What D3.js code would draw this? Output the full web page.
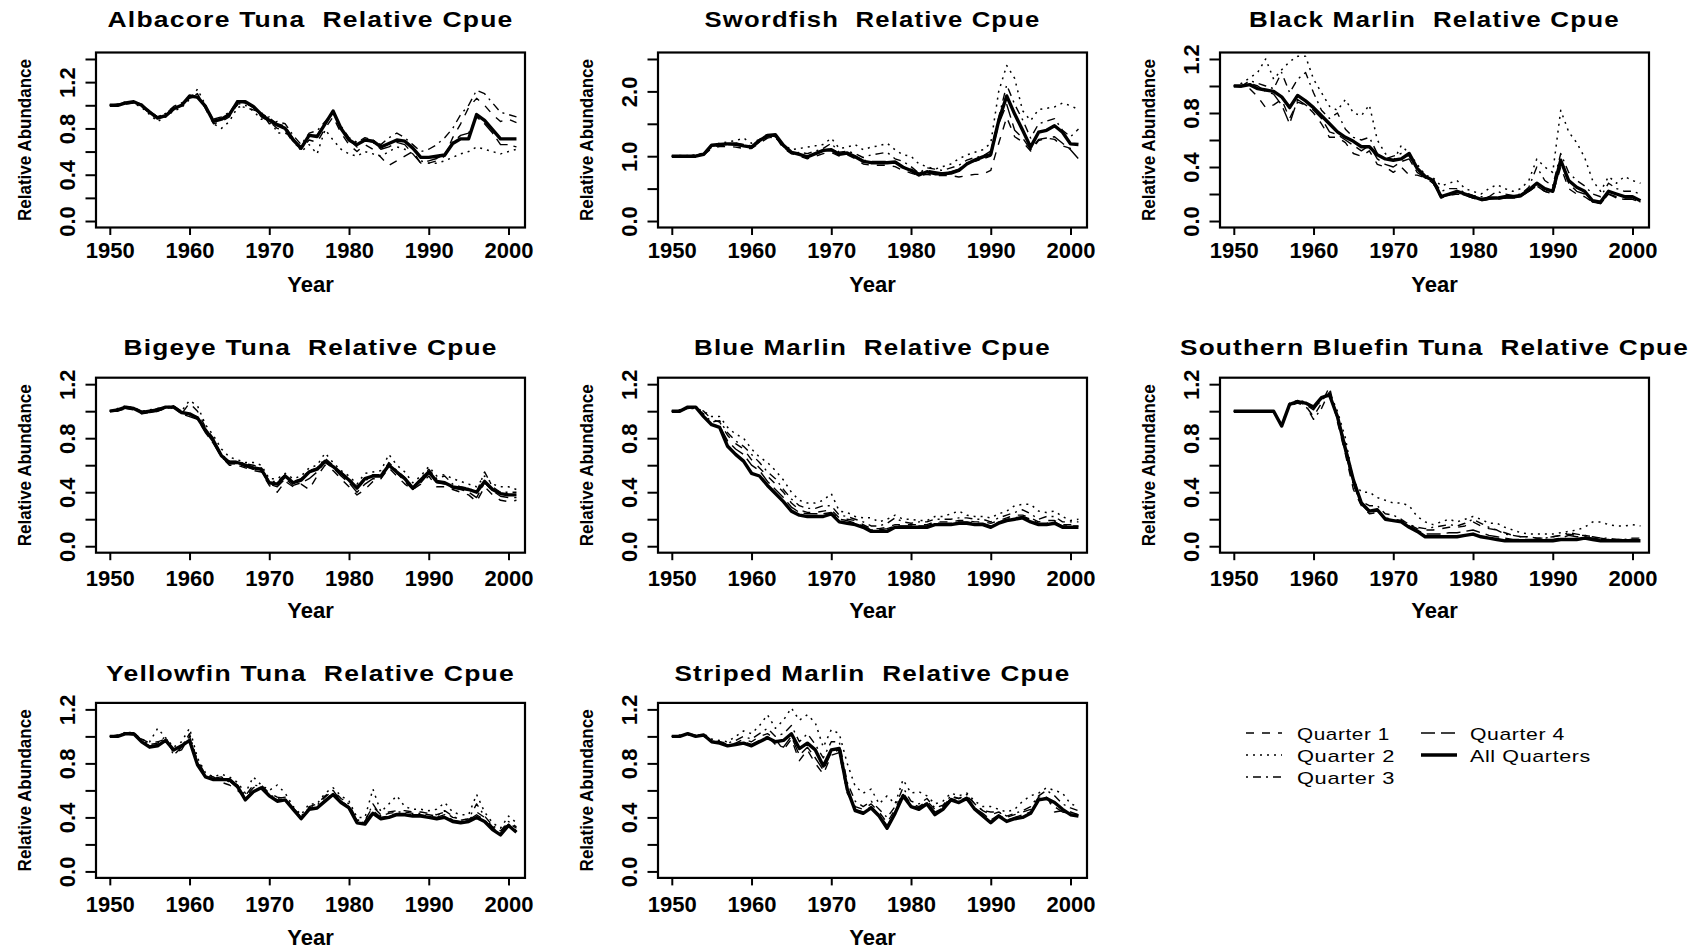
<!DOCTYPE html>
<html><head><meta charset="utf-8">
<script src="https://cdn.jsdelivr.net/npm/d3@7"></script>
<style>body{margin:0;background:#fff} svg{display:block}</style>
</head><body>
<script>
// ---------- DATA ----------
const years = [1950,1951,1952,1953,1954,1955,1956,1957,1958,1959,1960,1961,1962,1963,1964,1965,1966,1967,1968,1969,1970,1971,1972,1973,1974,1975,1976,1977,1978,1979,1980,1981,1982,1983,1984,1985,1986,1987,1988,1989,1990,1991,1992,1993,1994,1995,1996,1997,1998,1999,2000,2001];
const xTickValues = [1950,1960,1970,1980,1990,2000];
const seriesNames = ["Quarter 1","Quarter 2","Quarter 3","Quarter 4","All Quarters"];

const ticks14 = [0,0.2,0.4,0.6,0.8,1.0,1.2,1.4];
const labels14 = [0,0.4,0.8,1.2];
const ticks25 = [0,0.5,1.0,1.5,2.0,2.5];
const labels25 = [0,1.0,2.0];
const ticks12 = [0,0.2,0.4,0.6,0.8,1.0,1.2];
const labels12 = [0,0.4,0.8,1.2];

// Albacore Tuna
const albacoreQ1 = [1.0,1.0,1.01,1.02,0.99,0.93,0.90,0.93,0.98,1.01, 1.06,1.10,0.97,0.84,0.86,0.90,1.01,1.02,0.98,0.90, 0.86,0.80,0.78,0.68,0.62,0.70,0.68,0.80,0.90,0.76, 0.66,0.60,0.66,0.62,0.55,0.48,0.52,0.56,0.60,0.50, 0.50,0.52,0.56,0.72,0.84,0.98,1.06,1.0,0.92,0.86, 0.88,0.85];
const albacoreQ2 = [1.0,1.01,1.03,1.02,0.98,0.92,0.86,0.90,0.95,0.98, 1.05,1.14,1.0,0.84,0.80,0.86,0.98,1.0,0.95,0.88, 0.90,0.76,0.76,0.72,0.60,0.66,0.58,0.79,0.70,0.62, 0.58,0.56,0.60,0.58,0.56,0.60,0.64,0.62,0.58,0.52, 0.50,0.50,0.52,0.55,0.58,0.60,0.64,0.62,0.60,0.58, 0.60,0.62];
const albacoreQ3 = [1.0,1.0,1.03,1.02,1.0,0.95,0.90,0.93,0.99,1.02, 1.06,1.08,0.98,0.88,0.90,0.94,1.0,0.98,0.96,0.94, 0.84,0.86,0.84,0.74,0.66,0.76,0.78,0.86,0.94,0.82, 0.72,0.68,0.72,0.70,0.66,0.72,0.76,0.72,0.66,0.60, 0.62,0.66,0.72,0.80,0.92,1.0,1.13,1.10,1.02,0.94, 0.92,0.90];
const albacoreQ4 = [1.0,1.01,1.02,1.03,1.01,0.95,0.89,0.90,0.96,1.0, 1.07,1.06,1.0,0.87,0.88,0.93,1.04,1.02,0.98,0.93, 0.89,0.84,0.82,0.71,0.64,0.74,0.74,0.85,0.93,0.80, 0.70,0.64,0.70,0.68,0.62,0.64,0.68,0.66,0.58,0.50, 0.52,0.54,0.58,0.68,0.74,0.76,0.90,0.84,0.76,0.66, 0.66,0.64];
const albacoreAll = [1.0,1.0,1.02,1.03,1.0,0.94,0.89,0.91,0.97,1.0, 1.08,1.07,0.99,0.86,0.88,0.92,1.03,1.03,0.99,0.92, 0.87,0.83,0.80,0.70,0.63,0.74,0.73,0.84,0.95,0.80, 0.70,0.66,0.70,0.69,0.64,0.67,0.70,0.69,0.63,0.55, 0.55,0.56,0.57,0.67,0.71,0.71,0.92,0.87,0.79,0.71, 0.71,0.71];

// Swordfish
const swordfishQ1 = [1.0,1.0,0.99,1.0,1.02,1.12,1.15,1.15,1.14,1.12, 1.12,1.20,1.28,1.30,1.12,1.04,1.0,0.96,1.0,1.04, 1.06,1.0,1.02,0.96,0.88,0.86,0.86,0.86,0.84,0.78, 0.74,0.70,0.72,0.70,0.70,0.70,0.68,0.70,0.72,0.72, 0.78,1.20,1.60,1.30,1.22,1.08,1.24,1.28,1.26,1.16, 1.12,1.10];
const swordfishQ2 = [1.0,1.0,1.01,1.02,1.05,1.16,1.20,1.22,1.24,1.28, 1.20,1.26,1.30,1.28,1.18,1.10,1.12,1.14,1.16,1.18, 1.28,1.12,1.14,1.18,1.10,1.14,1.16,1.20,1.10,1.02, 1.0,0.88,0.84,0.80,0.84,0.88,0.96,1.02,1.06,1.10, 1.20,2.0,2.40,2.20,1.70,1.55,1.72,1.74,1.76,1.82, 1.78,1.72];
const swordfishQ3 = [1.0,1.01,1.0,1.02,1.04,1.14,1.16,1.18,1.20,1.18, 1.16,1.26,1.34,1.30,1.14,1.04,1.06,1.04,1.08,1.12, 1.20,1.06,1.08,1.04,0.98,1.02,1.04,1.06,0.96,0.92, 0.84,0.74,0.82,0.80,0.78,0.82,0.86,0.94,0.98,1.0, 1.08,1.60,2.10,1.80,1.56,1.28,1.50,1.54,1.58,1.40, 1.30,1.42];
const swordfishQ4 = [1.0,1.0,1.0,1.01,1.03,1.16,1.17,1.18,1.17,1.15, 1.13,1.22,1.30,1.32,1.15,1.05,1.02,1.0,1.03,1.08, 1.12,1.04,1.04,1.0,0.94,0.92,0.92,0.92,0.90,0.84, 0.80,0.74,0.78,0.76,0.74,0.76,0.80,0.90,0.92,0.96, 1.0,1.50,1.80,1.40,1.28,1.10,1.26,1.28,1.30,1.20, 1.10,0.96];
const swordfishAll = [1.0,1.0,1.0,1.0,1.03,1.17,1.18,1.19,1.19,1.16, 1.14,1.24,1.32,1.33,1.17,1.06,1.03,0.99,1.04,1.09, 1.10,1.03,1.05,0.99,0.92,0.90,0.90,0.90,0.91,0.83, 0.78,0.71,0.76,0.73,0.73,0.74,0.78,0.88,0.94,0.99, 1.03,1.55,1.93,1.65,1.40,1.14,1.37,1.40,1.47,1.37, 1.19,1.18];

// Black Marlin
const blackMarlinQ1 = [1.0,0.99,0.98,0.92,0.84,0.86,0.90,0.76,0.88,0.86, 0.80,0.72,0.62,0.62,0.58,0.50,0.48,0.52,0.42,0.40, 0.36,0.40,0.34,0.34,0.32,0.28,0.17,0.19,0.20,0.19, 0.17,0.15,0.16,0.16,0.17,0.17,0.18,0.22,0.26,0.22, 0.20,0.40,0.24,0.20,0.18,0.14,0.13,0.20,0.18,0.17, 0.17,0.14];
const blackMarlinQ2 = [1.0,1.02,1.06,1.10,1.20,1.05,1.12,1.18,1.22,1.22, 1.05,0.95,0.85,0.82,0.90,0.80,0.78,0.86,0.60,0.50, 0.44,0.56,0.50,0.42,0.34,0.32,0.26,0.28,0.30,0.24, 0.22,0.20,0.24,0.27,0.24,0.22,0.24,0.30,0.46,0.40, 0.36,0.82,0.66,0.58,0.47,0.30,0.22,0.33,0.28,0.33, 0.30,0.28];
const blackMarlinQ3 = [1.0,1.0,1.04,1.02,1.0,0.98,1.10,0.95,1.05,1.10, 0.95,0.82,0.76,0.80,0.68,0.62,0.60,0.62,0.50,0.46, 0.48,0.50,0.48,0.38,0.33,0.30,0.22,0.24,0.24,0.21, 0.19,0.18,0.18,0.22,0.20,0.19,0.20,0.25,0.40,0.30, 0.26,0.50,0.36,0.30,0.26,0.20,0.18,0.28,0.24,0.22, 0.22,0.20];
const blackMarlinQ4 = [1.0,1.0,1.02,1.0,0.96,0.94,0.86,0.72,0.90,0.86, 0.82,0.76,0.66,0.64,0.60,0.56,0.52,0.56,0.46,0.42, 0.40,0.44,0.46,0.36,0.32,0.28,0.18,0.19,0.21,0.19, 0.17,0.15,0.16,0.17,0.17,0.17,0.18,0.22,0.26,0.22, 0.20,0.44,0.28,0.22,0.20,0.14,0.13,0.20,0.17,0.16, 0.16,0.14];
const blackMarlinAll = [1.0,1.0,1.01,0.98,0.97,0.96,0.92,0.84,0.93,0.89, 0.84,0.78,0.72,0.66,0.62,0.59,0.55,0.55,0.49,0.46, 0.45,0.46,0.50,0.39,0.33,0.30,0.18,0.20,0.22,0.20, 0.18,0.16,0.17,0.17,0.18,0.18,0.19,0.23,0.28,0.24, 0.22,0.45,0.30,0.25,0.22,0.15,0.14,0.22,0.20,0.18, 0.18,0.15];

// Bigeye Tuna
const bigeyeQ1 = [1.0,1.0,1.02,1.01,0.98,0.99,1.0,1.02,1.04,0.98, 1.06,1.0,0.88,0.80,0.66,0.60,0.60,0.58,0.56,0.55, 0.45,0.40,0.48,0.44,0.46,0.42,0.52,0.60,0.56,0.50, 0.44,0.38,0.42,0.48,0.50,0.58,0.52,0.46,0.42,0.46, 0.52,0.44,0.44,0.42,0.40,0.38,0.33,0.44,0.38,0.34, 0.33,0.34];
const bigeyeQ2 = [1.0,1.02,1.04,1.02,1.0,1.01,1.02,1.03,1.02,1.0, 1.08,1.04,0.90,0.82,0.72,0.66,0.64,0.62,0.62,0.60, 0.50,0.50,0.54,0.50,0.52,0.58,0.60,0.69,0.62,0.56, 0.52,0.46,0.54,0.55,0.56,0.68,0.60,0.55,0.47,0.52, 0.59,0.52,0.53,0.50,0.48,0.46,0.44,0.52,0.46,0.44, 0.44,0.42];
const bigeyeQ3 = [1.0,1.01,1.03,1.03,1.0,1.0,1.02,1.03,1.04,1.0, 0.97,0.96,0.86,0.78,0.68,0.63,0.63,0.61,0.60,0.58, 0.48,0.48,0.53,0.48,0.50,0.56,0.58,0.65,0.60,0.55, 0.50,0.44,0.48,0.53,0.53,0.62,0.56,0.51,0.44,0.50, 0.57,0.50,0.52,0.46,0.44,0.43,0.40,0.55,0.44,0.40, 0.40,0.40];
const bigeyeQ4 = [1.0,1.0,1.02,1.02,0.99,0.99,1.0,1.02,1.03,0.98, 0.96,0.94,0.84,0.76,0.66,0.61,0.61,0.59,0.57,0.56, 0.46,0.44,0.50,0.45,0.47,0.50,0.55,0.62,0.58,0.52, 0.47,0.40,0.46,0.50,0.50,0.60,0.54,0.48,0.42,0.47, 0.54,0.47,0.46,0.43,0.42,0.40,0.36,0.47,0.41,0.37, 0.36,0.36];
const bigeyeAll = [1.0,1.01,1.03,1.02,0.99,1.0,1.01,1.03,1.03,0.99, 0.98,0.95,0.86,0.78,0.67,0.62,0.62,0.60,0.58,0.57, 0.47,0.46,0.52,0.47,0.49,0.55,0.57,0.63,0.59,0.54, 0.49,0.43,0.50,0.52,0.52,0.60,0.55,0.50,0.43,0.49, 0.55,0.48,0.47,0.44,0.43,0.42,0.40,0.48,0.42,0.39, 0.38,0.38];

// Blue Marlin
const blueMarlinQ1 = [1.0,1.0,1.02,1.03,1.0,0.94,0.92,0.82,0.76,0.72, 0.64,0.58,0.52,0.46,0.40,0.32,0.27,0.25,0.25,0.26, 0.27,0.21,0.20,0.19,0.16,0.13,0.13,0.14,0.16,0.16, 0.16,0.16,0.16,0.18,0.18,0.18,0.19,0.19,0.18,0.18, 0.17,0.19,0.21,0.23,0.23,0.21,0.18,0.19,0.19,0.16, 0.16,0.17];
const blueMarlinQ2 = [1.0,1.01,1.03,1.02,1.0,0.96,0.96,0.88,0.83,0.80, 0.72,0.66,0.62,0.56,0.49,0.40,0.34,0.32,0.32,0.34, 0.39,0.26,0.25,0.22,0.21,0.21,0.18,0.20,0.23,0.20, 0.20,0.19,0.19,0.22,0.22,0.24,0.26,0.23,0.22,0.22, 0.21,0.24,0.26,0.30,0.31,0.31,0.26,0.25,0.26,0.22, 0.19,0.20];
const blueMarlinQ3 = [1.0,1.0,1.02,1.02,0.98,0.92,0.93,0.84,0.78,0.74, 0.68,0.62,0.55,0.50,0.42,0.35,0.30,0.28,0.28,0.30, 0.30,0.23,0.22,0.20,0.18,0.15,0.15,0.17,0.21,0.18, 0.17,0.18,0.18,0.20,0.20,0.20,0.21,0.21,0.20,0.20, 0.18,0.21,0.23,0.25,0.27,0.24,0.20,0.22,0.22,0.18, 0.18,0.18];
const blueMarlinQ4 = [1.0,1.0,1.03,1.03,0.97,0.90,0.89,0.78,0.72,0.68, 0.60,0.56,0.48,0.42,0.36,0.29,0.25,0.24,0.24,0.24, 0.25,0.20,0.19,0.17,0.15,0.12,0.12,0.13,0.15,0.15, 0.15,0.15,0.15,0.17,0.17,0.17,0.18,0.18,0.17,0.17, 0.15,0.18,0.20,0.21,0.22,0.20,0.17,0.17,0.18,0.15, 0.15,0.15];
const blueMarlinAll = [1.0,1.0,1.03,1.03,0.96,0.90,0.88,0.74,0.68,0.63, 0.54,0.52,0.45,0.39,0.33,0.26,0.23,0.22,0.22,0.22, 0.24,0.18,0.17,0.16,0.14,0.11,0.11,0.11,0.14,0.14, 0.14,0.14,0.14,0.16,0.16,0.16,0.17,0.17,0.16,0.16, 0.14,0.17,0.19,0.20,0.21,0.18,0.16,0.16,0.17,0.14, 0.14,0.14];

// Southern Bluefin Tuna
const bluefinQ1 = [1.0,1.0,1.0,1.0,1.0,1.0,0.90,1.04,1.06,1.04, 0.96,1.06,1.18,0.92,0.68,0.42,0.30,0.24,0.25,0.21, 0.20,0.19,0.16,0.13,0.12,0.12,0.13,0.14,0.14,0.15, 0.18,0.15,0.13,0.12,0.10,0.08,0.07,0.07,0.06,0.06, 0.07,0.08,0.09,0.08,0.08,0.07,0.06,0.05,0.05,0.05, 0.05,0.05];
const bluefinQ2 = [1.0,1.0,1.0,1.0,1.0,1.0,0.90,1.06,1.08,1.07, 1.02,1.08,1.14,1.0,0.80,0.48,0.40,0.40,0.36,0.34, 0.32,0.32,0.30,0.22,0.18,0.16,0.18,0.20,0.18,0.20, 0.22,0.20,0.17,0.17,0.14,0.12,0.10,0.09,0.09,0.09, 0.09,0.10,0.11,0.12,0.14,0.18,0.18,0.16,0.15,0.15, 0.16,0.15];
const bluefinQ3 = [1.0,1.0,1.0,1.0,1.0,1.0,0.89,1.05,1.08,1.04, 0.94,1.02,1.15,0.94,0.76,0.45,0.33,0.30,0.30,0.24, 0.23,0.20,0.16,0.14,0.13,0.14,0.15,0.16,0.15,0.17, 0.20,0.17,0.14,0.12,0.09,0.08,0.07,0.07,0.06,0.06, 0.07,0.08,0.10,0.09,0.08,0.07,0.06,0.06,0.05,0.05, 0.06,0.06];
const bluefinQ4 = [1.0,1.0,1.0,1.0,1.0,1.0,0.89,1.05,1.07,1.05, 1.01,1.09,1.13,0.95,0.70,0.46,0.31,0.25,0.26,0.20, 0.19,0.18,0.15,0.12,0.09,0.09,0.09,0.10,0.10,0.11, 0.12,0.10,0.08,0.07,0.06,0.05,0.05,0.05,0.05,0.05, 0.05,0.06,0.08,0.07,0.07,0.06,0.05,0.05,0.04,0.04, 0.05,0.05];
const bluefinAll = [1.0,1.0,1.0,1.0,1.0,1.0,0.89,1.05,1.07,1.06, 1.03,1.10,1.12,0.96,0.72,0.49,0.32,0.26,0.27,0.20, 0.19,0.18,0.14,0.11,0.07,0.07,0.07,0.07,0.07,0.08, 0.09,0.07,0.06,0.05,0.04,0.04,0.04,0.04,0.04,0.04, 0.04,0.05,0.05,0.05,0.06,0.05,0.04,0.04,0.04,0.04, 0.04,0.04];

// Yellowfin Tuna
const yellowfinQ1 = [1.0,1.01,1.02,1.01,0.98,0.95,0.96,0.98,0.88,0.90, 1.0,0.82,0.72,0.70,0.66,0.64,0.60,0.55,0.62,0.64, 0.58,0.55,0.54,0.47,0.40,0.48,0.50,0.56,0.60,0.52, 0.48,0.38,0.38,0.48,0.42,0.44,0.45,0.45,0.44,0.44, 0.43,0.42,0.44,0.40,0.39,0.38,0.44,0.40,0.33,0.29, 0.36,0.32];
const yellowfinQ2 = [1.0,1.01,1.03,1.02,0.98,0.96,1.06,0.99,0.92,0.96, 1.06,0.84,0.73,0.70,0.72,0.70,0.66,0.58,0.70,0.64, 0.60,0.64,0.58,0.48,0.42,0.50,0.50,0.58,0.62,0.56, 0.52,0.40,0.40,0.61,0.44,0.50,0.56,0.48,0.46,0.46, 0.45,0.46,0.51,0.44,0.42,0.42,0.57,0.44,0.36,0.32, 0.41,0.36];
const yellowfinQ3 = [1.0,1.0,1.03,1.03,0.97,0.94,0.95,1.0,0.86,0.92, 1.02,0.80,0.71,0.69,0.70,0.66,0.64,0.56,0.64,0.63, 0.57,0.54,0.55,0.47,0.41,0.47,0.49,0.55,0.60,0.54, 0.50,0.38,0.37,0.50,0.41,0.43,0.44,0.44,0.43,0.43, 0.42,0.41,0.45,0.41,0.38,0.39,0.50,0.41,0.34,0.30, 0.37,0.33];
const yellowfinQ4 = [1.0,1.0,1.02,1.02,0.96,0.93,0.94,0.97,0.89,0.92, 0.98,0.80,0.70,0.69,0.68,0.67,0.62,0.54,0.60,0.62, 0.56,0.53,0.53,0.46,0.40,0.46,0.48,0.53,0.58,0.52, 0.48,0.37,0.36,0.45,0.40,0.41,0.43,0.43,0.42,0.42, 0.41,0.40,0.42,0.38,0.37,0.38,0.42,0.38,0.32,0.28, 0.35,0.30];
const yellowfinAll = [1.0,1.0,1.02,1.02,0.96,0.92,0.93,0.97,0.90,0.93, 0.97,0.79,0.70,0.68,0.68,0.68,0.63,0.53,0.59,0.62, 0.56,0.52,0.53,0.46,0.39,0.46,0.47,0.52,0.57,0.51, 0.47,0.36,0.35,0.43,0.39,0.40,0.42,0.42,0.41,0.41, 0.40,0.39,0.40,0.37,0.36,0.37,0.40,0.37,0.31,0.27, 0.34,0.29];

// Striped Marlin
const stripedQ1 = [1.0,1.0,1.01,1.01,1.0,0.97,0.96,0.94,0.95,0.98, 0.96,1.0,1.02,0.98,0.90,0.98,0.82,0.90,0.80,0.72, 0.86,0.88,0.58,0.48,0.46,0.50,0.44,0.36,0.46,0.58, 0.50,0.48,0.52,0.46,0.48,0.55,0.54,0.56,0.50,0.45, 0.42,0.44,0.40,0.42,0.44,0.46,0.55,0.56,0.44,0.45, 0.44,0.42];
const stripedQ2 = [1.0,1.01,1.02,1.0,1.02,0.98,0.97,0.96,1.0,1.04, 1.02,1.08,1.16,1.06,1.12,1.21,1.12,1.16,1.10,0.92, 1.05,1.02,0.80,0.63,0.58,0.61,0.50,0.56,0.50,0.68, 0.58,0.59,0.56,0.50,0.52,0.58,0.56,0.58,0.52,0.48, 0.48,0.46,0.44,0.46,0.52,0.56,0.58,0.62,0.60,0.58, 0.50,0.48];
const stripedQ3 = [1.0,1.0,1.02,1.01,1.01,0.97,0.96,0.95,0.97,1.0, 0.98,1.02,1.06,1.0,1.02,1.08,0.96,1.02,0.94,0.84, 0.96,0.96,0.66,0.52,0.48,0.52,0.46,0.40,0.48,0.62, 0.52,0.50,0.54,0.47,0.49,0.56,0.54,0.57,0.50,0.45, 0.44,0.44,0.41,0.43,0.45,0.48,0.56,0.60,0.56,0.50, 0.47,0.45];
const stripedQ4 = [1.0,1.0,1.02,1.0,1.01,0.96,0.95,0.93,0.94,0.96, 0.94,0.97,1.0,0.94,0.92,1.0,0.86,0.92,0.84,0.75, 0.88,0.90,0.60,0.46,0.44,0.48,0.42,0.34,0.44,0.57, 0.49,0.47,0.51,0.44,0.47,0.54,0.52,0.55,0.47,0.43, 0.38,0.42,0.38,0.40,0.42,0.44,0.52,0.55,0.48,0.44, 0.43,0.42];
const stripedAll = [1.0,1.0,1.02,1.0,1.01,0.96,0.95,0.93,0.94,0.95, 0.93,0.96,0.99,0.96,0.97,1.02,0.91,0.95,0.90,0.78, 0.90,0.91,0.61,0.45,0.43,0.47,0.41,0.32,0.43,0.56, 0.48,0.46,0.50,0.42,0.46,0.53,0.51,0.54,0.46,0.41, 0.36,0.41,0.37,0.39,0.40,0.43,0.53,0.54,0.51,0.46, 0.42,0.41];

// ---------- PANELS ----------
const panels = [
  {title:"Albacore Tuna  Relative Cpue", tw:406, col:0, row:0, ylim:[0,1.4], ticks:ticks14, labels:labels14, fmt:".1f", series:[albacoreQ1,albacoreQ2,albacoreQ3,albacoreQ4,albacoreAll]},
  {title:"Swordfish  Relative Cpue", tw:336, col:1, row:0, ylim:[0,2.5], ticks:ticks25, labels:labels25, fmt:".1f", series:[swordfishQ1,swordfishQ2,swordfishQ3,swordfishQ4,swordfishAll]},
  {title:"Black Marlin  Relative Cpue", tw:371, col:2, row:0, ylim:[0,1.2], ticks:ticks12, labels:labels12, fmt:".1f", series:[blackMarlinQ1,blackMarlinQ2,blackMarlinQ3,blackMarlinQ4,blackMarlinAll]},
  {title:"Bigeye Tuna  Relative Cpue", tw:374, col:0, row:1, ylim:[0,1.2], ticks:ticks12, labels:labels12, fmt:".1f", series:[bigeyeQ1,bigeyeQ2,bigeyeQ3,bigeyeQ4,bigeyeAll]},
  {title:"Blue Marlin  Relative Cpue", tw:357, col:1, row:1, ylim:[0,1.2], ticks:ticks12, labels:labels12, fmt:".1f", series:[blueMarlinQ1,blueMarlinQ2,blueMarlinQ3,blueMarlinQ4,blueMarlinAll]},
  {title:"Southern Bluefin Tuna  Relative Cpue", tw:509, col:2, row:1, ylim:[0,1.2], ticks:ticks12, labels:labels12, fmt:".1f", series:[bluefinQ1,bluefinQ2,bluefinQ3,bluefinQ4,bluefinAll]},
  {title:"Yellowfin Tuna  Relative Cpue", tw:409, col:0, row:2, ylim:[0,1.2], ticks:ticks12, labels:labels12, fmt:".1f", series:[yellowfinQ1,yellowfinQ2,yellowfinQ3,yellowfinQ4,yellowfinAll]},
  {title:"Striped Marlin  Relative Cpue", tw:396, col:1, row:2, ylim:[0,1.2], ticks:ticks12, labels:labels12, fmt:".1f", series:[stripedQ1,stripedQ2,stripedQ3,stripedQ4,stripedAll]}
];

// ---------- STYLE / LAYOUT ----------
const FONT = "'Liberation Sans', Arial, Helvetica, sans-serif";
const styles = [
  {dash:"8,8", w:1.4},
  {dash:"2,5", w:1.5},
  {dash:"2,5,8,5", w:1.4},
  {dash:"14,6", w:1.4},
  {dash:null, w:3.4}
];
const colLeft = [96, 658, 1220], rowTop = [52.5, 377.7, 702.9];
const W = 429, H = 175;
const rowText = [{title:27, tick:30.5, xlab:292}, {title:355, tick:33.3, xlab:618}, {title:681, tick:34.1, xlab:945}];

const svg = d3.select("body").append("svg").attr("width",1700).attr("height",949)
  .style("font-family", FONT);

panels.forEach(p => {
  const x0 = colLeft[p.col], y0 = rowTop[p.row], rt = rowText[p.row];
  const g = svg.append("g").attr("transform", `translate(${x0},${y0})`);
  const x = d3.scaleLinear().domain([1948.27, 2002.07]).range([0, W]);
  const pad = (p.ylim[1]-p.ylim[0])*0.04;
  const y = d3.scaleLinear().domain([p.ylim[0]-pad, p.ylim[1]+pad]).range([H, 0]);

  const line = d3.line().x((d,i)=>x(years[i])).y(d=>y(d));
  p.series.forEach((s, k) => {
    g.append("path").datum(s).attr("d", line)
      .attr("fill","none").attr("stroke","#000")
      .attr("stroke-width", styles[k].w)
      .attr("stroke-dasharray", styles[k].dash)
      .attr("stroke-linejoin","round");
  });

  // box
  g.append("rect").attr("width",W).attr("height",H)
    .attr("fill","none").attr("stroke","#000").attr("stroke-width",2.2);

  // x axis
  const xa = g.append("g").attr("transform",`translate(0,${H})`)
    .call(d3.axisBottom(x).tickValues(xTickValues).tickSize(7.5).tickFormat(d3.format("d")));
  xa.select(".domain").remove();
  xa.selectAll("line").attr("stroke-width",2);
  xa.selectAll("text").attr("y", rt.tick).attr("dy", null)
    .style("font-family", FONT).style("font-size","22px").style("font-weight","bold").attr("fill","#000");

  // y axis
  const f = d3.format(p.fmt);
  const ya = g.append("g")
    .call(d3.axisLeft(y).tickValues(p.ticks).tickSize(10.5)
      .tickFormat(d => p.labels.some(v => Math.abs(v-d) < 1e-9) ? f(d) : ""));
  ya.select(".domain").remove();
  ya.selectAll("line").attr("stroke-width",2);
  ya.selectAll("text").attr("x", null).attr("dy", null)
    .attr("transform","translate(-21,0) rotate(-90)").attr("text-anchor","middle")
    .style("font-family", FONT).style("font-size","22px").style("font-weight","bold").attr("fill","#000");

  // title
  svg.append("text").attr("x", x0 + W/2).attr("y", rt.title).attr("text-anchor","middle")
    .style("white-space","pre").style("font-size","22px").style("font-weight","bold")
    .style("letter-spacing","1px")
    .attr("textLength", p.tw).attr("lengthAdjust","spacingAndGlyphs").text(p.title);

  // x label
  svg.append("text").attr("x", x0 + W/2).attr("y", rt.xlab).attr("text-anchor","middle")
    .style("font-size","22px").style("font-weight","bold").text("Year");

  // y label
  svg.append("text").attr("transform", `translate(${x0-65},${y0+H/2}) rotate(-90)`)
    .attr("text-anchor","middle").style("font-size","18px").style("font-weight","bold")
    .attr("textLength",162).attr("lengthAdjust","spacingAndGlyphs").text("Relative Abundance");
});

// ---------- LEGEND ----------
const legendItems = [
  {k:0, lx:1246, tx:1297, y:739.5, tw:93},
  {k:1, lx:1246, tx:1297, y:761.5, tw:98},
  {k:2, lx:1246, tx:1297, y:783.5, tw:98},
  {k:3, lx:1421, tx:1470, y:739.5, tw:95},
  {k:4, lx:1421, tx:1470, y:761.5, tw:121}
];
const lg = svg.append("g");
legendItems.forEach(it => {
  lg.append("line").attr("x1", it.lx).attr("x2", it.lx+36)
    .attr("y1", it.y-6.5).attr("y2", it.y-6.5)
    .attr("stroke","#000").attr("stroke-width", styles[it.k].w)
    .attr("stroke-dasharray", styles[it.k].dash);
  lg.append("text").attr("x", it.tx).attr("y", it.y)
    .style("font-size","17px").style("letter-spacing","0.5px")
    .attr("textLength", it.tw).attr("lengthAdjust","spacingAndGlyphs")
    .text(seriesNames[it.k]);
});
</script>
</body></html>
